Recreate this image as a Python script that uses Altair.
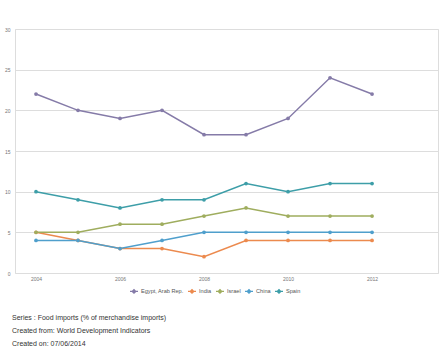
import altair as alt
import pandas as pd

years = [2004, 2005, 2006, 2007, 2008, 2009, 2010, 2011, 2012]
egypt = [22, 20, 19, 20, 17, 17, 19, 24, 22]
india = [5, 4, 3, 3, 2, 4, 4, 4, 4]
israel = [5, 5, 6, 6, 7, 8, 7, 7, 7]
china = [4, 4, 3, 4, 5, 5, 5, 5, 5]
spain = [10, 9, 8, 9, 9, 11, 10, 11, 11]

countries = ["Egypt, Arab Rep.", "India", "Israel", "China", "Spain"]
colors = ["#857ba8", "#ec8a4e", "#9fad5e", "#4f9fcc", "#3d9ea8"]
series = [egypt, india, israel, china, spain]

rows = []
for name, vals in zip(countries, series):
    for y, v in zip(years, vals):
        rows.append({"Year": y, "Country": name, "Value": v})
df = pd.DataFrame(rows)

color = alt.Color(
    "Country:N",
    scale=alt.Scale(domain=countries, range=colors),
    sort=countries,
    legend=alt.Legend(
        orient="none",
        legendX=114,
        legendY=257,
        direction="horizontal",
        title=None,
        labelFontSize=5.6,
        labelColor="#555",
        labelFont="Liberation Sans",
        labelOffset=2,
        symbolType="M-1,0H1M-0.45,0L0,-0.45L0.45,0L0,0.45Z",
        symbolSize=64,
        symbolStrokeWidth=1.2,
        columnPadding=1,
    ),
)

x = alt.X(
    "Year:Q",
    scale=alt.Scale(domain=[2003.5, 2013.57], nice=False, zero=False),
    axis=alt.Axis(
        values=[2004, 2006, 2008, 2010, 2012],
        format="d",
        title=None,
        grid=False,
        domain=False,
        ticks=False,
        labelFontSize=5,
        labelColor="#777",
        labelPadding=3,
    ),
)
y = alt.Y(
    "Value:Q",
    scale=alt.Scale(domain=[0, 30], nice=False),
    axis=alt.Axis(
        values=[0, 5, 10, 15, 20, 25, 30],
        title=None,
        grid=True,
        gridColor="#dddddd",
        gridWidth=1,
        domain=False,
        ticks=False,
        labelFontSize=5,
        labelColor="#777",
        labelPadding=5,
    ),
)

base = alt.Chart(df).encode(x=x, y=y, color=color)
lines = base.mark_line(strokeWidth=1.5)
points = base.mark_point(filled=True, size=14, opacity=1)

chart = (
    alt.layer(lines, points)
    .properties(
        width=423,
        height=244,
        autosize=alt.AutoSizeParams(type="none"),
        padding={"left": 15, "top": 29, "right": 2, "bottom": 79},
        title=alt.TitleParams(
            text=[
                "Series : Food imports (% of merchandise imports)",
                "Created from: World Development Indicators",
                "Created on: 07/06/2014",
            ],
            orient="bottom",
            anchor="start",
            frame="group",
            fontSize=7,
            fontWeight="normal",
            font="Liberation Sans",
            color="#333",
            lineHeight=13,
            offset=16,
            dx=-3,
            dy=2,
        ),
    )
    .configure_view(stroke=None)
    .configure(font="Liberation Sans")
)

chart.save("out.html", embed_options={"renderer": "svg", "actions": False})
